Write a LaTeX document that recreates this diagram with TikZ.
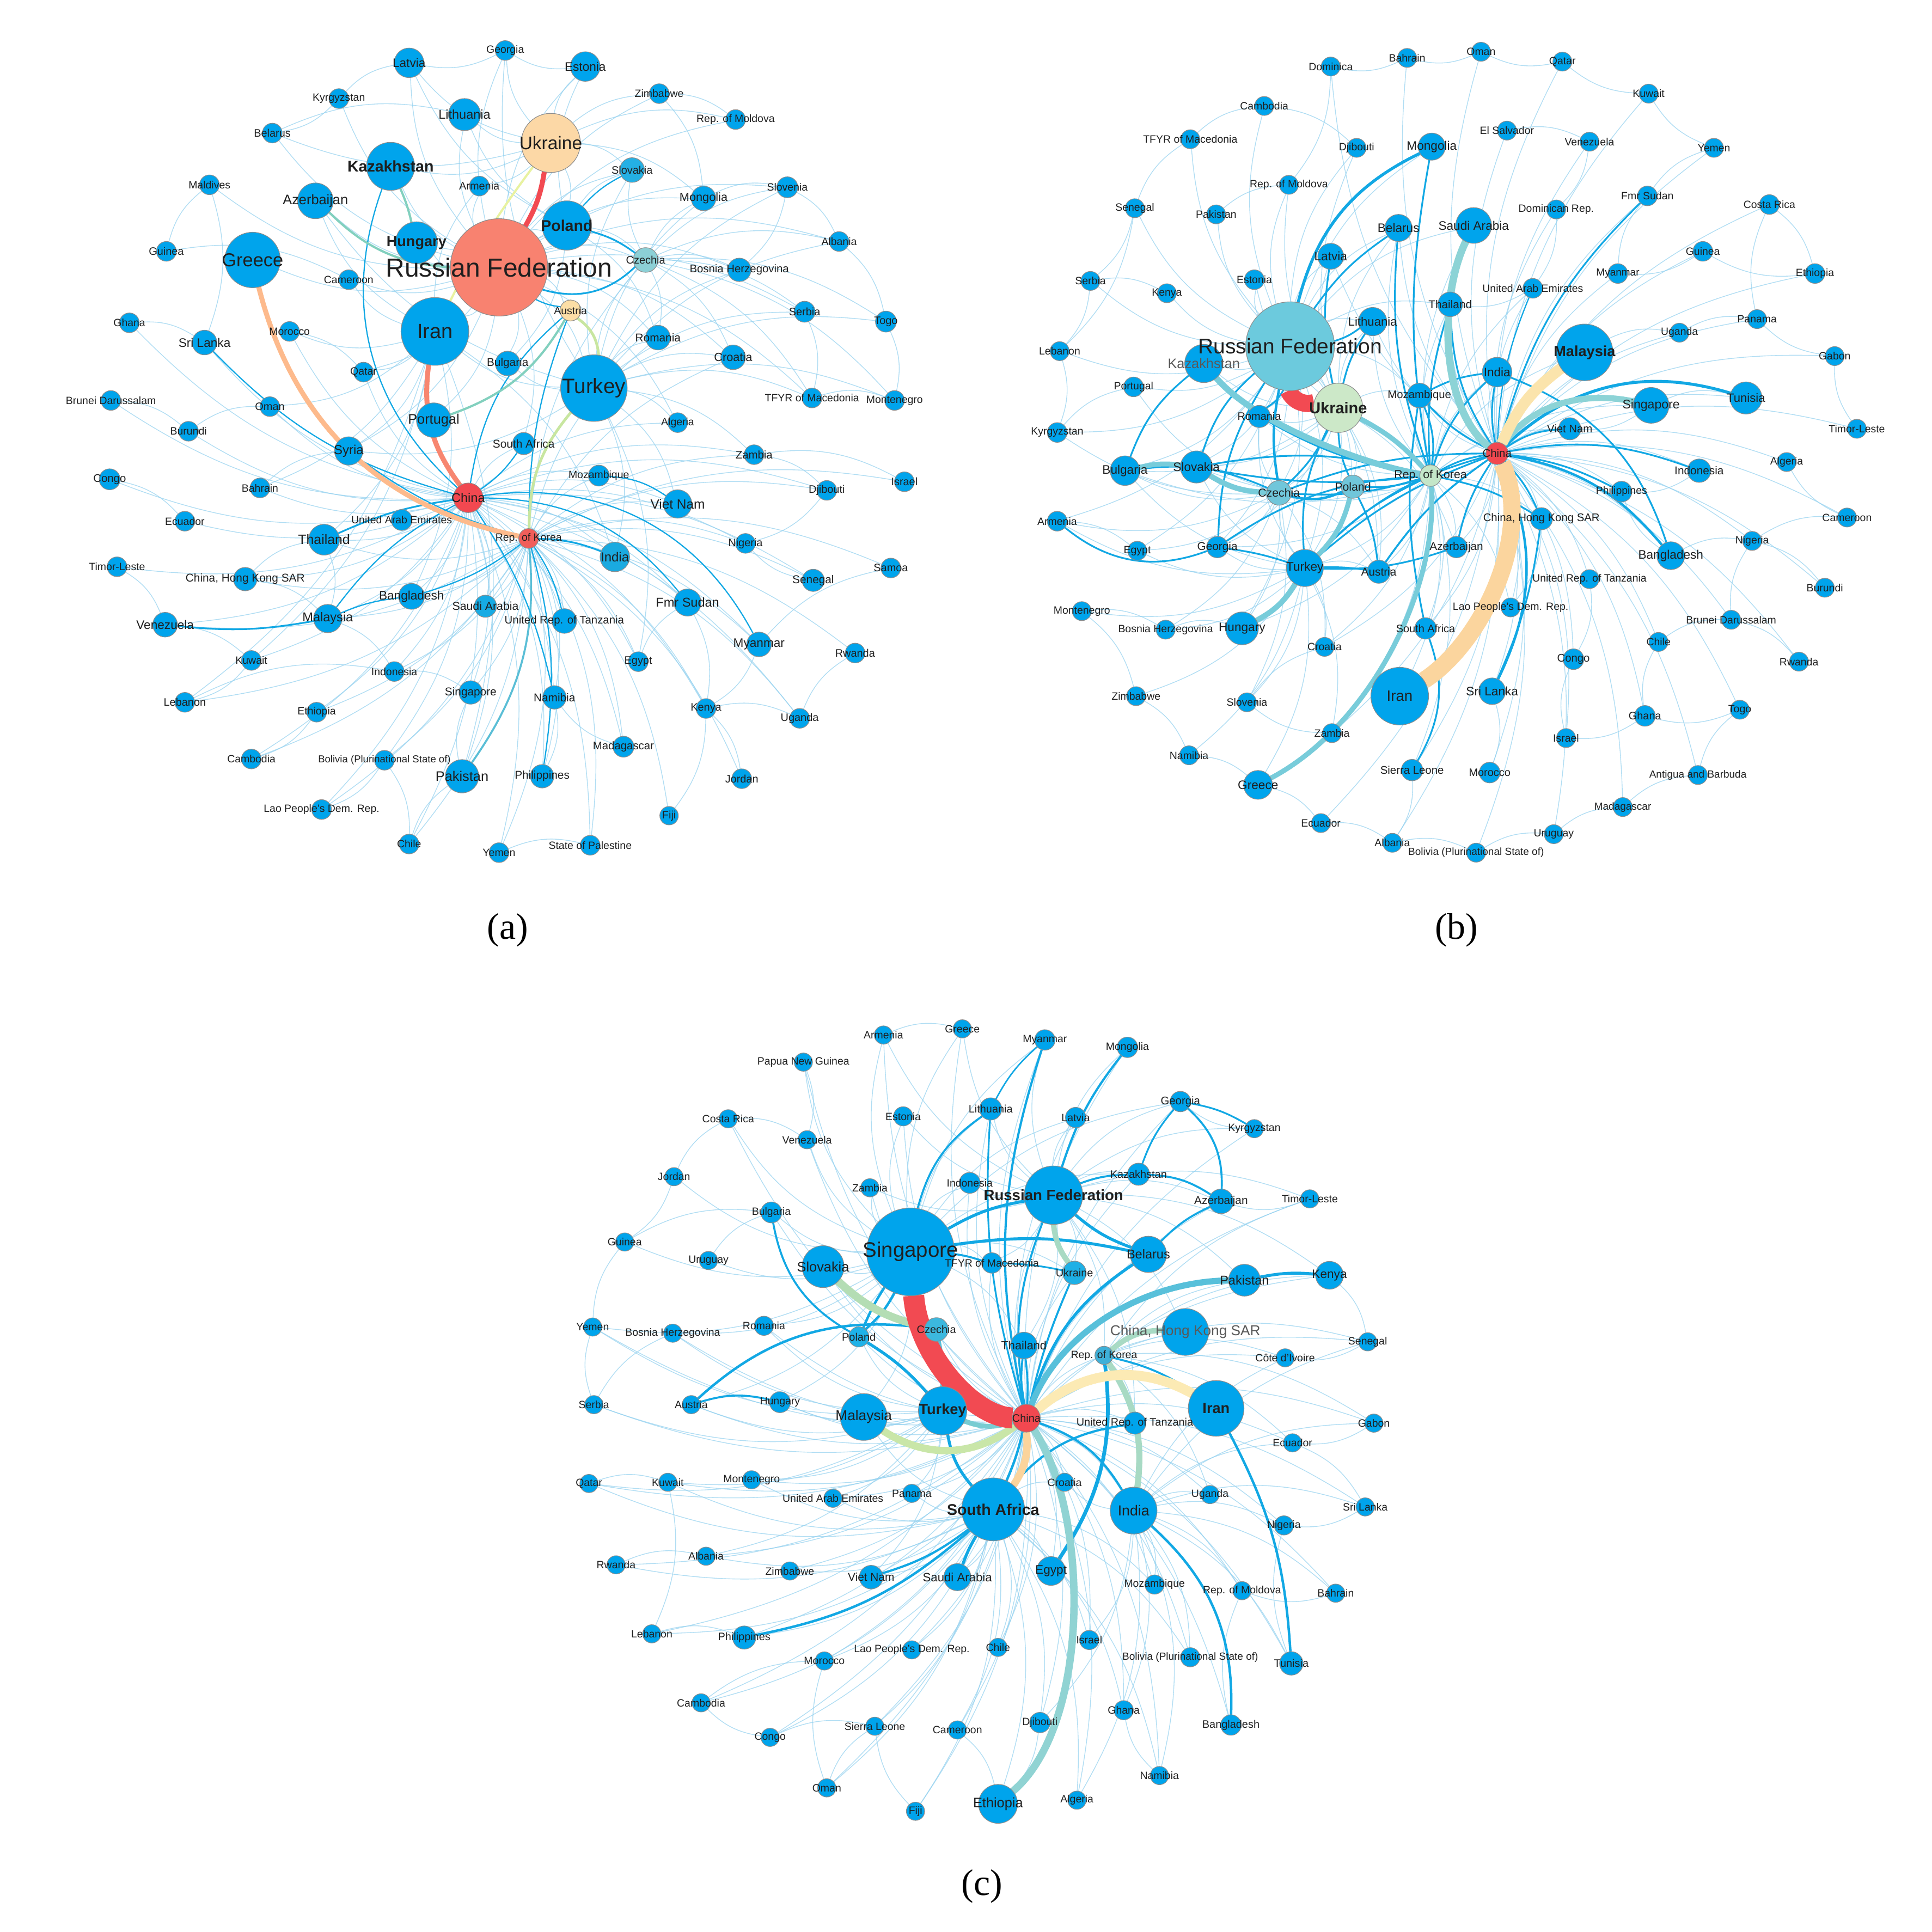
\documentclass[tikz,border=0pt]{standalone}
\usepackage{fontspec}
\setmainfont{Liberation Sans}
\newfontfamily\capfont{Liberation Serif}
\pgfdeclarelayer{bg}\pgfsetlayers{bg,main}
\definecolor{nb}{RGB}{0,164,236}
\definecolor{ruA}{RGB}{248,130,112}
\definecolor{uaA}{RGB}{252,216,166}
\definecolor{cnred}{RGB}{242,72,80}
\definecolor{krA}{RGB}{241,94,90}
\definecolor{czA}{RGB}{140,208,214}
\definecolor{atA}{RGB}{252,222,166}
\definecolor{skA}{RGB}{36,176,228}
\definecolor{inA}{RGB}{26,170,224}
\definecolor{saA}{RGB}{22,171,228}
\definecolor{ruB}{RGB}{108,202,221}
\definecolor{uaB}{RGB}{204,232,200}
\definecolor{krB}{RGB}{196,230,200}
\definecolor{czB}{RGB}{112,198,218}
\definecolor{uaC}{RGB}{30,176,230}
\definecolor{czC}{RGB}{60,184,222}
\definecolor{krC}{RGB}{62,176,216}
\definecolor{plC}{RGB}{30,178,232}
\definecolor{ec}{RGB}{150,210,240}
\definecolor{mb}{RGB}{18,168,228}
\definecolor{redE}{RGB}{242,74,82}
\definecolor{orangeE}{RGB}{253,186,140}
\definecolor{salmonE}{RGB}{247,134,112}
\definecolor{lgE}{RGB}{200,230,160}
\definecolor{ylE}{RGB}{232,242,160}
\definecolor{tealGE}{RGB}{130,208,190}
\definecolor{tealD}{RGB}{90,190,214}
\definecolor{peachE}{RGB}{251,228,172}
\definecolor{orE}{RGB}{251,213,158}
\definecolor{tealB}{RGB}{140,211,214}
\definecolor{tealB2}{RGB}{120,204,218}
\definecolor{tealC}{RGB}{88,192,218}
\definecolor{tealC2}{RGB}{120,204,210}
\definecolor{lgC}{RGB}{180,221,180}
\definecolor{lgC2}{RGB}{201,230,168}
\definecolor{peachC}{RGB}{251,212,156}
\definecolor{ylC}{RGB}{252,234,180}
\definecolor{grC}{RGB}{168,218,196}
\definecolor{tealEt}{RGB}{144,211,211}
\tikzset{
 vtx/.style={circle,inner sep=0pt,outer sep=0pt,draw=black!45,line width=0.25pt,fill=nb},
 lbl/.style={inner sep=0pt,text=black!88},
 fe/.style={draw=ec,line width=0.3pt,opacity=0.75},
 me/.style={draw=mb,line width=0.7pt},
 captxt/.style={font=\capfont\fontsize{15}{15}\selectfont}
}
\newcommand\Vcirc[7][]{\node[vtx,#1,minimum size=#5pt] (#2) at (#3,#4) {};}
\newcommand\Vlab[7][]{\node[lbl,font=\fontsize{#6}{#6}\selectfont] (#2t) at (#3,#4) {#7};}
\newcommand\nodedata{%
% ================= (a) =================
\V{aLV}{332}{51}{12}{5.0}{Latvia}
\V{aGE}{410}{41}{8}{4.3}{Georgia}
\V{aEE}{475}{54}{12}{5.0}{Estonia}
\V{aKG}{275}{80}{8}{4.3}{Kyrgyzstan}
\V{aLT}{377}{93}{13}{5.2}{Lithuania}
\V{aZW}{535}{76}{8}{4.3}{Zimbabwe}
\V{aMD}{597}{97}{8}{4.3}{Rep. of Moldova}
\V{aBY}{221}{108}{8}{4.4}{Belarus}
\V[fill=uaA]{aUA}{447}{116}{24}{7.4}{Ukraine}
\V{aKZ}{317}{135}{19.5}{6.3}{\bfseries Kazakhstan}
\V{aAM}{389}{151}{8}{4.4}{Armenia}
\V{aMV}{170}{150}{8}{4.3}{Maldives}
\V[fill=skA]{aSK}{513}{138}{10}{4.4}{Slovakia}
\V{aSI}{639}{152}{8.5}{4.3}{Slovenia}
\V{aMN}{571}{161}{10}{4.8}{Mongolia}
\V{aAZ}{256}{163}{14.5}{5.6}{Azerbaijan}
\V{aPL}{460}{183}{20}{6.3}{\bfseries Poland}
\V{aAL}{681}{196}{8}{4.3}{Albania}
\V{aGN}{135}{204}{8}{4.4}{Guinea}
\V{aGR}{205}{211}{22.5}{7.6}{Greece}
\V{aHU}{338}{197}{17}{6.0}{\bfseries Hungary}
\V[fill=ruA]{aRU}{405}{217}{39.5}{10.6}{Russian Federation}
\V{aCM}{283}{227}{8}{4.3}{Cameroon}
\V[fill=czA]{aCZ}{524}{211}{10}{4.4}{Czechia}
\V{aBA}{600}{219}{9.5}{4.5}{Bosnia Herzegovina}
\V[fill=atA]{aAT}{463}{252}{8.5}{4.3}{Austria}
\V{aRS}{653}{253}{8.5}{4.4}{Serbia}
\V{aTG}{719}{261}{8.5}{4.4}{Togo}
\V{aGH}{105}{262}{8}{4.3}{Ghana}
\V{aIR}{353}{269}{27.5}{8.4}{Iran}
\V{aMA}{235}{269}{8}{4.3}{Morocco}
\V{aLK}{166}{278}{10}{5.0}{Sri Lanka}
\V{aRO}{534}{274}{10}{4.6}{Romania}
\V{aHR}{595}{290}{10}{4.8}{Croatia}
\V{aBG}{412}{295}{10}{4.6}{Bulgaria}
\V{aQA}{295}{302}{8}{4.3}{Qatar}
\V{aTR}{482}{315}{27}{8.5}{Turkey}
\V{aBN}{90}{325}{8}{4.3}{Brunei Darussalam}
\V{aOM}{219}{330}{8}{4.4}{Oman}
\V{aPT}{352}{341}{14}{5.6}{Portugal}
\V{aMK}{659}{323}{8}{4.3}{TFYR of Macedonia}
\V{aME}{726}{325}{8}{4.3}{Montenegro}
\V{aDZ}{550}{343}{8}{4.3}{Algeria}
\V{aBI}{153}{350}{8}{4.3}{Burundi}
\V{aZA}{425}{360}{9}{4.6}{South Africa}
\V{aSY}{283}{366}{11.5}{5.3}{Syria}
\V{aZM}{612}{369}{8}{4.5}{Zambia}
\V{aCG}{89}{389}{8.5}{4.5}{Congo}
\V{aBH}{211}{396}{8}{4.3}{Bahrain}
\V[fill=cnred]{aCN}{380}{404}{12}{5.2}{China}
\V{aMZ}{486}{386}{8.5}{4.3}{Mozambique}
\V{aIL}{734}{391}{8}{4.4}{Israel}
\V{aDJ}{671}{398}{8}{4.4}{Djibouti}
\V{aVN}{550}{409}{11.5}{5.4}{Viet Nam}
\V{aEC}{150}{423}{8}{4.3}{Ecuador}
\V{aAE}{326}{422}{8.5}{4.3}{United Arab Emirates}
\V{aTH}{263}{438}{12.5}{5.5}{Thailand}
\V{aTL}{95}{460}{8}{4.3}{Timor-Leste}
\V{aHK}{199}{470}{9.5}{4.6}{China, Hong Kong SAR}
\V[fill=krA]{aKR}{429}{437}{8}{4.3}{Rep. of Korea}
\V{aNG}{605}{441}{8}{4.4}{Nigeria}
\V[fill=inA]{aIN}{499}{452}{12}{5.3}{India}
\V{aWS}{723}{461}{8}{4.4}{Samoa}
\V{aSN}{660}{471}{9}{4.6}{Senegal}
\V{aBD}{334}{484}{10.5}{5.0}{Bangladesh}
\V[fill=saA]{aSA}{394}{492}{9}{4.7}{Saudi Arabia}
\V{aMY}{266}{502}{11.5}{5.2}{Malaysia}
\V{aVE}{134}{507}{10}{5.0}{Venezuela}
\V{aSD}{558}{489}{11}{5.2}{Fmr Sudan}
\V{aTZ}{458}{504}{10}{4.5}{United Rep. of Tanzania}
\V{aMM}{616}{523}{10}{5.0}{Myanmar}
\V{aRW}{694}{530}{8}{4.4}{Rwanda}
\V{aEG}{518}{537}{8}{4.4}{Egypt}
\V{aKW}{204}{536}{8}{4.3}{Kuwait}
\V{aID}{320}{545}{8}{4.3}{Indonesia}
\V{aSG}{382}{562}{9.5}{4.6}{Singapore}
\V{aLB}{150}{570}{8}{4.4}{Lebanon}
\V{aET}{257}{578}{8}{4.3}{Ethiopia}
\V{aNA}{450}{566}{9.5}{4.6}{Namibia}
\V{aKE}{573}{575}{8}{4.4}{Kenya}
\V{aUG}{649}{583}{8}{4.4}{Uganda}
\V{aKH}{204}{616}{8}{4.3}{Cambodia}
\V{aBO}{312}{617}{8}{4.1}{Bolivia (Plurinational State of)}
\V{aPK}{375}{630}{13.5}{5.6}{Pakistan}
\V{aMG}{506}{606}{8.5}{4.5}{Madagascar}
\V{aPH}{440}{630}{9.5}{4.6}{Philippines}
\V{aJO}{602}{632}{8}{4.4}{Jordan}
\V{aLA}{261}{657}{8}{4.3}{Lao People's Dem. Rep.}
\V{aFJ}{543}{662}{7.5}{4.4}{Fiji}
\V{aCL}{332}{685}{8}{4.3}{Chile}
\V{aYE}{405}{692}{8}{4.3}{Yemen}
\V{aPS}{479}{686}{8}{4.3}{State of Palestine}
% ================= (b) =================
\V{bDM}{1080}{54}{7.7}{4.3}{Dominica}
\V{bBH}{1142}{47}{7.7}{4.3}{Bahrain}
\V{bOM}{1202}{42}{7.7}{4.3}{Oman}
\V{bQA}{1268}{50}{7.7}{4.3}{Qatar}
\V{bKH}{1026}{86}{7.7}{4.3}{Cambodia}
\V{bKW}{1338}{76}{7.7}{4.3}{Kuwait}
\V{bMK}{966}{113}{7.7}{4.3}{TFYR of Macedonia}
\V{bDJ}{1101}{120}{7.7}{4.3}{Djibouti}
\V{bMN}{1162}{119}{11}{5.0}{Mongolia}
\V{bSV}{1223}{106}{7.7}{4.3}{El Salvador}
\V{bVE}{1290}{115}{7.7}{4.3}{Venezuela}
\V{bYE}{1391}{120}{7.7}{4.3}{Yemen}
\V{bMD}{1046}{150}{7.7}{4.3}{Rep. of Moldova}
\V{bSD}{1337}{159}{8}{4.3}{Fmr Sudan}
\V{bCR}{1436}{166}{8}{4.3}{Costa Rica}
\V{bDO}{1263}{170}{7.7}{4.3}{Dominican Rep.}
\V{bSN}{921}{169}{7.7}{4.3}{Senegal}
\V{bPK}{987}{174}{7.7}{4.3}{Pakistan}
\V{bBY}{1135}{185}{11}{5.0}{Belarus}
\V{bSA}{1196}{183}{14.5}{5.0}{Saudi Arabia}
\V{bGN}{1382}{204}{8}{4.3}{Guinea}
\V{bLV}{1080}{208}{10.5}{5.0}{Latvia}
\V{bMM}{1313}{222}{8}{4.2}{Myanmar}
\V{bET}{1473}{222}{8}{4.3}{Ethiopia}
\V{bRS}{885}{228}{7.7}{4.3}{Serbia}
\V{bEE}{1018}{227}{8}{4.3}{Estonia}
\V{bKE}{947}{238}{7.7}{4.3}{Kenya}
\V{bAE}{1244}{234}{8}{4.3}{United Arab Emirates}
\V{bTH}{1177}{247}{10}{4.6}{Thailand}
\V{bPA}{1426}{259}{7.7}{4.3}{Panama}
\V{bLT}{1114}{261}{11.5}{4.9}{Lithuania}
\V{bUG}{1363}{270}{7.7}{4.3}{Uganda}
\V[fill=ruB]{bRU}{1047}{281}{36}{8.6}{Russian Federation}
\V{bLB}{860}{285}{7.7}{4.3}{Lebanon}
\V{bGA}{1489}{289}{7.7}{4.3}{Gabon}
\V{bKZ}{977}{295}{15.5}{5.6}{\color{black!65}Kazakhstan}
\V{bMY}{1286}{286}{23}{6.0}{\bfseries Malaysia}
\V{bIN}{1215}{302}{12}{5.0}{India}
\V{bPT}{920}{314}{8}{4.3}{Portugal}
\V{bMZ}{1152}{321}{10}{4.5}{Mozambique}
\V{bTN}{1417}{323}{13}{4.9}{Tunisia}
\V{bSG}{1340}{329}{14.5}{5.1}{Singapore}
\V[fill=uaB]{bUA}{1086}{331}{20}{6.4}{\bfseries Ukraine}
\V{bRO}{1022}{338}{9}{4.4}{Romania}
\V{bTL}{1507}{348}{7.7}{4.3}{Timor-Leste}
\V{bVN}{1274}{348}{9}{4.5}{Viet Nam}
\V{bKG}{858}{351}{8}{4.3}{Kyrgyzstan}
\V[fill=cnred]{bCN}{1215}{368}{9}{4.5}{China}
\V{bDZ}{1450}{375}{7.7}{4.3}{Algeria}
\V{bSK}{971}{379}{13}{5.0}{Slovakia}
\V{bBG}{913}{382}{12}{5.0}{Bulgaria}
\V{bID}{1379}{382}{9.5}{4.6}{Indonesia}
\V[fill=krB]{bKR}{1161}{386}{8.7}{4.7}{Rep. of Korea}
\V[fill=czB]{bPL}{1098}{395}{9.4}{4.7}{Poland}
\V{bPH}{1316}{399}{8.4}{4.3}{Philippines}
\V[fill=czB]{bCZ}{1038}{400}{10}{4.7}{Czechia}
\V{bCM}{1499}{420}{7.7}{4.3}{Cameroon}
\V{bHK}{1251}{421}{9}{4.5}{China, Hong Kong SAR}
\V{bAM}{858}{423}{8}{4.3}{Armenia}
\V{bNG}{1422}{439}{7.7}{4.3}{Nigeria}
\V{bEG}{923}{447}{7.7}{4.3}{Egypt}
\V{bGE}{988}{444}{8.7}{4.6}{Georgia}
\V{bAZ}{1182}{444}{8.7}{4.6}{Azerbaijan}
\V{bBD}{1356}{451}{11.3}{5.0}{Bangladesh}
\V{bTR}{1059}{461}{15}{5.0}{Turkey}
\V{bAT}{1119}{464}{9.4}{4.6}{Austria}
\V{bTZ}{1290}{470}{7.7}{4.3}{United Rep. of Tanzania}
\V{bBI}{1481}{477}{7.7}{4.3}{Burundi}
\V{bLA}{1226}{493}{7.7}{4.3}{Lao People's Dem. Rep.}
\V{bME}{878}{496}{7.7}{4.3}{Montenegro}
\V{bBN}{1405}{503}{7.7}{4.3}{Brunei Darussalam}
\V{bBA}{946}{511}{7.7}{4.3}{Bosnia Herzegovina}
\V{bHU}{1008}{510}{13.3}{5.0}{Hungary}
\V{bZA}{1157}{510}{8.7}{4.4}{South Africa}
\V{bCL}{1346}{521}{7.7}{4.3}{Chile}
\V{bHR}{1075}{525}{7.7}{4.3}{Croatia}
\V{bCG}{1277}{535}{8.4}{4.5}{Congo}
\V{bRW}{1460}{537}{7.7}{4.3}{Rwanda}
\V{bSL}{1146}{625}{8.7}{4.5}{Sierra Leone}
\V{bLK}{1211}{561}{10.8}{5.0}{Sri Lanka}
\V{bIR}{1136}{565}{23.4}{6.1}{Iran}
\V{bZW}{922}{565}{7.7}{4.3}{Zimbabwe}
\V{bSI}{1012}{570}{7.7}{4.3}{Slovenia}
\V{bTG}{1412}{576}{7.7}{4.3}{Togo}
\V{bGH}{1335}{581}{8.4}{4.4}{Ghana}
\V{bZM}{1081}{595}{7.7}{4.3}{Zambia}
\V{bIL}{1271}{599}{7.7}{4.3}{Israel}
\V{bNA}{965}{613}{7.7}{4.3}{Namibia}
\V{bMA}{1209}{627}{8.4}{4.4}{Morocco}
\V{bAG}{1378}{629}{7.7}{4.2}{Antigua and Barbuda}
\V{bGR}{1021}{637}{11.7}{5.0}{Greece}
\V{bMG}{1317}{655}{7.7}{4.2}{Madagascar}
\V{bEC}{1072}{668}{7.7}{4.3}{Ecuador}
\V{bUY}{1261}{677}{7.7}{4.3}{Uruguay}
\V{bAL}{1130}{684}{7.7}{4.3}{Albania}
\V{bBO}{1198}{692}{7.7}{4.2}{Bolivia (Plurinational State of)}
% ================= (c) =================
\V{cAM}{717}{840}{7.4}{4.3}{Armenia}
\V{cGR}{781}{835}{7.4}{4.3}{Greece}
\V{cMM}{848}{844}{8.3}{4.3}{Myanmar}
\V{cMN}{915}{850}{8.3}{4.3}{Mongolia}
\V{cPG}{652}{862}{7.4}{4.3}{Papua New Guinea}
\V{cGE}{958}{894}{8.3}{4.5}{Georgia}
\V{cLT}{804}{900}{9}{4.4}{Lithuania}
\V{cEE}{733}{906}{7.8}{4.3}{Estonia}
\V{cLV}{873}{907}{8.3}{4.3}{Latvia}
\V{cCR}{591}{908}{7.4}{4.3}{Costa Rica}
\V{cKG}{1018}{916}{7.4}{4.3}{Kyrgyzstan}
\V{cVE}{655}{925}{7.4}{4.3}{Venezuela}
\V{cJO}{547}{955}{7.4}{4.3}{Jordan}
\V{cKZ}{924}{953}{9}{4.4}{Kazakhstan}
\V{cID}{787}{960}{8.5}{4.3}{Indonesia}
\V{cZM}{706}{964}{7.4}{4.3}{Zambia}
\V{cRU}{855}{970}{23.7}{6.1}{\bfseries Russian Federation}
\V{cTL}{1063}{973}{7.4}{4.3}{Timor-Leste}
\V{cAZ}{991}{975}{10}{4.6}{Azerbaijan}
\V{cBG}{626}{984}{8.5}{4.3}{Bulgaria}
\V{cGN}{507}{1008}{7.4}{4.3}{Guinea}
\V{cSG}{739}{1016}{35.6}{8.5}{Singapore}
\V{cBY}{932}{1018}{14.7}{5.2}{Belarus}
\V{cUY}{575}{1023}{7.4}{4.3}{Uruguay}
\V{cMK}{805}{1025}{8.3}{4.3}{TFYR of Macedonia}
\V{cSK}{668}{1028}{17}{5.6}{Slovakia}
\V[fill=uaC]{cUA}{872}{1033}{9.5}{4.4}{Ukraine}
\V{cKE}{1079}{1035}{11.3}{5.0}{Kenya}
\V{cPK}{1010}{1039}{12.9}{5.2}{Pakistan}
\V{cRO}{620}{1076}{7.8}{4.3}{Romania}
\V{cYE}{481}{1077}{7.4}{4.3}{Yemen}
\V[fill=czC]{cCZ}{760}{1079}{9.6}{4.4}{Czechia}
\V{cHK}{962}{1081}{19}{5.8}{\color{black!65}China, Hong Kong SAR}
\V{cBA}{546}{1082}{7.4}{4.3}{Bosnia Herzegovina}
\V[fill=plC]{cPL}{697}{1085}{8.2}{4.4}{Poland}
\V{cSN}{1110}{1089}{7.4}{4.3}{Senegal}
\V{cTH}{831}{1092}{10.8}{4.8}{Thailand}
\V[fill=krC]{cKR}{896}{1100}{7.4}{4.3}{Rep. of Korea}
\V{cCI}{1043}{1102}{7.4}{4.3}{Côte d'Ivoire}
\V{cRS}{482}{1140}{7.4}{4.3}{Serbia}
\V{cAT}{561}{1140}{7.4}{4.3}{Austria}
\V{cHU}{633}{1138}{8.5}{4.3}{Hungary}
\V{cIR}{987}{1143}{22.6}{6.0}{\bfseries Iran}
\V{cTR}{765}{1145}{19.6}{6.0}{\bfseries Turkey}
\V{cMY}{701}{1150}{19}{5.8}{Malaysia}
\V[fill=cnred]{cCN}{833}{1151}{11.3}{4.4}{China}
\V{cTZ}{921}{1155}{9}{4.4}{United Rep. of Tanzania}
\V{cGA}{1115}{1155}{7.4}{4.3}{Gabon}
\V{cEC}{1049}{1171}{7.4}{4.3}{Ecuador}
\V{cQA}{478}{1204}{7.4}{4.3}{Qatar}
\V{cKW}{542}{1203}{7.4}{4.3}{Kuwait}
\V{cME}{610}{1201}{7.4}{4.3}{Montenegro}
\V{cAE}{676}{1216}{7.4}{4.3}{United Arab Emirates}
\V{cPA}{740}{1212}{7.4}{4.3}{Panama}
\V{cHR}{864}{1203}{7.4}{4.3}{Croatia}
\V{cUG}{982}{1213}{7.4}{4.3}{Uganda}
\V{cZA}{806}{1225}{25.5}{6.3}{\bfseries South Africa}
\V{cIN}{920}{1226}{19}{5.9}{India}
\V{cLK}{1108}{1223}{7.4}{4.3}{Sri Lanka}
\V{cNG}{1042}{1238}{7.8}{4.3}{Nigeria}
\V{cRW}{500}{1270}{7.4}{4.3}{Rwanda}
\V{cAL}{573}{1263}{7.4}{4.3}{Albania}
\V{cZW}{641}{1275}{7.4}{4.3}{Zimbabwe}
\V{cVN}{707}{1280}{9.6}{4.6}{Viet Nam}
\V{cSA}{777}{1280}{11}{4.9}{Saudi Arabia}
\V{cEG}{853}{1275}{11.7}{5.0}{Egypt}
\V{cMZ}{937}{1286}{7.8}{4.3}{Mozambique}
\V{cMD}{1008}{1291}{7.4}{4.3}{Rep. of Moldova}
\V{cBH}{1084}{1293}{7.4}{4.3}{Bahrain}
\V{cLB}{529}{1326}{7.4}{4.3}{Lebanon}
\V{cPH}{604}{1329}{9.4}{4.4}{Philippines}
\V{cIL}{884}{1331}{7.8}{4.3}{Israel}
\V{cCL}{810}{1337}{7.4}{4.3}{Chile}
\V{cLA}{740}{1339}{7.4}{4.3}{Lao People's Dem. Rep.}
\V{cMA}{669}{1348}{7.4}{4.3}{Morocco}
\V{cBO}{966}{1345}{7.8}{4.2}{Bolivia (Plurinational State of)}
\V{cTN}{1048}{1350}{9.5}{4.4}{Tunisia}
\V{cKH}{569}{1382}{7.4}{4.3}{Cambodia}
\V{cGH}{912}{1388}{7.8}{4.3}{Ghana}
\V{cDJ}{844}{1398}{8.3}{4.3}{Djibouti}
\V{cBD}{999}{1400}{8.3}{4.4}{Bangladesh}
\V{cSL}{710}{1401}{7.4}{4.3}{Sierra Leone}
\V{cCM}{777}{1404}{7.4}{4.3}{Cameroon}
\V{cCG}{625}{1410}{7.4}{4.3}{Congo}
\V{cNA}{941}{1441}{7.4}{4.3}{Namibia}
\V{cOM}{671}{1451}{7.4}{4.3}{Oman}
\V{cDZ}{874}{1461}{7.4}{4.3}{Algeria}
\V{cET}{810}{1464}{15.8}{5.6}{Ethiopia}
\V{cFJ}{743}{1470}{7.4}{4.3}{Fiji}
}
\begin{document}
\begin{tikzpicture}[x=0.5pt,y=-0.5pt]
\useasboundingbox (0,0) rectangle (1568,1568);
\let\V\Vcirc
\nodedata
\begin{pgfonlayer}{bg}
\fill[white] (0,0) rectangle (1568,1568);
% ---- (a) faint
\foreach \h/\L in {
 aRU/{aLV,aGE,aEE,aKG,aLT,aBY,aKZ,aAM,aAZ,aSK,aMN,aSI,aPL,aCZ,aBA,aHU,aBG,aRO,aHR,aRS,aTR,aIR,aPT,aMD,aZW,aAL,aGR,aCM,aMV,aQA,aMK,aSY,aDZ,aAT,aZA},
 aCN/{aTH,aAE,aMY,aBD,aSA,aID,aSG,aVN,aMM,aIN,aSD,aTZ,aPK,aHK,aLK,aSY,aBO,aPH,aNA,aET,aKW,aVE,aKH,aLA,aCL,aYE,aEG,aMZ,aZA,aDZ,aZM,aNG,aDJ,aBH,aOM,aMA,aBN,aBI,aCG,aEC,aTL,aGH,aSN,aKE,aUG,aQA,aMG,aPS},
 aKR/{aTH,aMY,aBD,aSA,aID,aSG,aVN,aMM,aSD,aTZ,aPH,aNA,aEG,aMZ,aKE,aUG,aRW,aWS,aSN,aNG,aIL,aDJ,aFJ,aJO,aMG,aPS,aYE,aCL,aBO,aLA,aET,aKH,aHK,aVE,aLB,aZM,aRO,aHR,aCZ},
 aTR/{aBG,aRO,aHR,aBA,aRS,aSI,aMK,aME,aAL,aDZ,aZM,aTG,aCZ,aSK,aMN,aGE,aAZ,aIR,aSY,aIN,aVN,aEG},
 aIR/{aSY,aQA,aOM,aMA,aCM,aAZ,aAM,aTH,aBH,aKW,aLB,aPK,aIN,aBD},
 aUA/{aGE,aEE,aLT,aLV,aMD,aZW,aSK,aPL,aBY,aKZ,aAM,aMN},
 aPL/{aLT,aEE,aLV,aCZ,aSK,aHU,aRO,aBG},
 aCZ/{aSK,aBA,aSI,aAL,aRO,aHR,aMN,aRS,aMK,aME,aTG}}
 {\foreach \n in \L {\draw[fe] (\h) to[bend left=18] (\n);}}
\foreach \p/\q in {aCG/aEC,aTL/aVE,aVE/aKW,aKW/aLB,aLB/aID,aKE/aUG,aUG/aRW,aMM/aWS,aSN/aNG,aSD/aKE,aKE/aFJ,aKE/aJO,aMM/aKE,aZM/aDJ,aZM/aIL,aDJ/aNG,aSI/aAL,aSI/aBA,aTG/aME,aRS/aMK,aMK/aME,aAL/aTG,aMN/aSI,aZW/aMD,aGN/aMV,aMV/aLK,aGN/aCM,aGH/aLK,aBN/aBI,aBI/aOM,aBH/aSY,aMA/aQA,aKG/aBY,aKG/aLV,aBY/aLT,aHK/aMY,aHK/aTH,aTH/aMY,aMY/aID,aID/aSG,aET/aKH,aBO/aLA,aBO/aCL,aCL/aPK,aPK/aSG,aYE/aPS,aMG/aNA,aNA/aPH,aEG/aSD,aGE/aLV,aEE/aGE,aZW/aMN}
 {\draw[fe] (\p) to[bend left=18] (\q);}
% ---- (b) faint
\foreach \h/\L in {
 bRU/{bLV,bEE,bLT,bBY,bMD,bPK,bKE,bSN,bRS,bMK,bKH,bDJ,bLB,bPT,bKG,bKZ,bRO,bBG,bSK,bCZ,bPL,bTR,bGE,bAM,bEG,bHU,bAT,bMZ,bTH,bSA,bMN},
 bCN/{bIN,bVN,bTN,bID,bPH,bHK,bBD,bTZ,bLA,bLK,bCG,bIL,bGH,bMA,bSL,bZA,bCL,bBN,bNG,bDZ,bCM,bBI,bRW,bTG,bAG,bMG,bUY,bBO,bAL,bEC,bZM,bHR,bAZ,bAE,bMM,bUG,bPA,bGA,bET,bGN,bCR,bSD,bYE,bKW,bVE,bDO,bSV,bOM,bQA,bBH,bTL,bDM,bKR,bTH,bMZ,bLT,bBY,bLV},
 bKR/{bPL,bCZ,bTR,bAT,bZA,bAZ,bHU,bSK,bBG,bRO,bIN,bMZ,bHK,bLA,bHR,bGE,bTH,bAE,bSA,bVN,bSG,bSL,bIR,bZM,bMY,bLT,bBY},
 bUA/{bLT,bBY,bLV,bEE,bMD,bRO,bCZ,bPL,bTR,bMZ,bSK,bBG,bKZ,bGE,bDJ,bAZ,bAT},
 bTR/{bGE,bEG,bAM,bBA,bHR,bSI,bZW,bNA,bZM,bGR,bME,bAT,bCZ,bSK,bBG,bRO},
 bCZ/{bBG,bHU,bBA,bSI,bHR,bAT,bGE,bRO,bAM,bEG,bPT,bKG}}
 {\foreach \n in \L {\draw[fe] (\h) to[bend left=18] (\n);}}
\foreach \p/\q in {bSN/bRS,bSN/bMK,bMK/bKH,bKH/bDJ,bRS/bLB,bRS/bKE,bKG/bPT,bAM/bEG,bME/bZW,bZW/bNA,bNA/bGR,bGR/bEC,bEC/bAL,bAL/bBO,bBO/bUY,bUY/bMG,bMG/bAG,bAG/bTG,bTG/bGH,bGH/bIL,bIL/bCG,bGH/bCL,bCL/bBN,bBN/bRW,bBN/bNG,bNG/bCM,bNG/bBI,bCM/bDZ,bTL/bGA,bGA/bPA,bPA/bCR,bCR/bET,bET/bGN,bGN/bMM,bMM/bSD,bSD/bYE,bYE/bKW,bKW/bQA,bQA/bOM,bOM/bBH,bBH/bDM,bSV/bVE,bVE/bDO,bDO/bAE,bAE/bTH,bUG/bPA,bMY/bUG,bSG/bTN,bSG/bVN,bID/bPH,bBD/bPH,bBD/bNG,bHK/bLA,bTZ/bCG,bLK/bMA,bSL/bAL,bZM/bSI,bBA/bHU,bME/bBA,bSI/bHR,bDM/bMD,bPK/bMD,bLB/bKG,bSN/bLB}
 {\draw[fe] (\p) to[bend left=18] (\q);}
% ---- (c) faint
\foreach \h/\L in {
 cCN/{cAM,cGR,cMM,cMN,cPG,cGE,cLT,cEE,cLV,cKG,cKZ,cID,cZM,cRU,cTL,cAZ,cBG,cBY,cMK,cSK,cUA,cKE,cRO,cCZ,cHK,cPL,cSN,cTH,cKR,cCI,cHU,cAT,cTZ,cGA,cEC,cME,cAE,cPA,cHR,cUG,cIN,cLK,cNG,cAL,cZW,cVN,cSA,cEG,cMZ,cMD,cBH,cPH,cIL,cCL,cLA,cMA,cBO,cTN,cGH,cDJ,cBD,cSL,cCM,cNA,cDZ,cFJ,cKW,cQA,cRW,cLB,cKH,cCG,cOM,cVE,cCR,cYE,cRS,cBA},
 cSG/{cBG,cSK,cZM,cID,cEE,cLT,cVE,cPG,cAM,cGR,cMM,cLV,cRO,cHU,cAT,cMY,cUA,cTH,cMK,cBA,cUY,cGN,cJO,cCR,cYE,cKZ,cGE},
 cRU/{cMM,cMN,cLT,cLV,cGE,cKG,cKZ,cAZ,cMK,cUA,cTH,cKR,cID,cZM,cEE,cGR,cAM,cTL,cHK,cPK,cKE,cTZ},
 cZA/{cMY,cSA,cVN,cPH,cZW,cAL,cAE,cPA,cMA,cLA,cSL,cCM,cOM,cFJ,cET,cDJ,cCL,cEG,cIL,cGH,cNA,cMZ,cBO,cRW,cQA,cKW,cME,cLB,cKH,cCG,cHR,cDZ},
 cIN/{cUG,cNG,cLK,cEC,cMD,cMZ,cBO,cGH,cIL,cBH,cTN,cNA,cGA,cSN,cCI,cHR,cDJ,cDZ},
 cTR/{cPL,cMY,cHU,cAT,cRO,cBA,cYE,cRS,cQA,cKW,cME,cAL,cAE,cVN,cPA},
 cKR/{cUG,cPK,cCI,cSN,cGA,cEC,cTZ,cKE,cTL}}
 {\foreach \n in \L {\draw[fe] (\h) to[bend left=18] (\n);}}
\foreach \p/\q in {cRS/cBA,cRS/cYE,cQA/cKW,cKW/cLB,cRW/cAL,cLB/cPH,cKH/cMA,cCG/cSL,cOM/cSL,cFJ/cSL,cCM/cET,cDJ/cET,cNA/cGH,cBD/cMD,cBH/cMD,cTN/cNG,cLK/cNG,cEC/cLK,cGA/cEC,cSN/cCI,cTL/cAZ,cKG/cGE,cKE/cSN,cCR/cVE,cPG/cVE,cAM/cGR,cJO/cGN,cUY/cBG,cGN/cBG,cYE/cGN,cJO/cCR,cOM/cMA,cCG/cKH}
 {\draw[fe] (\p) to[bend left=18] (\q);}
% ---- (a) medium
\draw[me] (aRU) to[bend right=30] (aCZ);
\draw[me] (aPL) to[bend left=10] (aCZ);
\draw[me,line width=0.5pt] (aSK) to[bend right=10] (aPL);
\draw[me,line width=0.5pt] (aKZ) to[bend right=34] (aCN);
\draw[me,line width=0.5pt] (aLK) to[bend right=15] (aCN);
\draw[me] (aTH) to[bend left=8] (aCN);
\draw[me,line width=0.5pt] (aSY) to[bend right=10] (aKR);
\draw[me] (aVE) to[bend right=8] (aMY);
\draw[me,line width=0.5pt] (aMY) to[bend left=8] (aBD);
\draw[me,line width=0.5pt] (aBD) to[bend right=10] (aKR);
\draw[me,line width=0.5pt] (aMY) to[bend left=12] (aCN);
\draw[me,draw=tealD,line width=0.8pt] (aPK) to[bend right=20] (aKR);
\draw[me] (aKR) to[bend left=10] (aIN);
\draw[me,line width=0.5pt] (aCN) to[bend left=35] (aMM);
\draw[me,line width=0.5pt] (aMZ) to[bend left=15] (aVN);
\draw[me,line width=0.5pt] (aKR) to[bend left=12] (aPH);
\draw[me,line width=0.5pt] (aCN) to[bend left=10] (aNA);
\draw[me,line width=0.5pt] (aCN) to[bend left=25] (aSD);
\draw[me,line width=0.5pt] (aAT) to[bend right=10] (aKR);
\draw[me,line width=0.5pt] (aAT) to[bend right=20] (aCN);
\draw[me,line width=0.5pt] (aAT) to[bend left=10] (aRU);
\draw[me,line width=0.5pt] (aZA) to[bend left=10] (aCN);
\draw[me,line width=0.5pt] (aTZ) to[bend right=10] (aKR);
% ---- (a) strong
\draw[line width=0.9pt,draw=tealGE] (aKZ) to[bend left=5] (aHU);
\draw[line width=0.9pt,draw=tealGE] (aAZ) to[bend right=20] (aRU);
\draw[line width=0.9pt,draw=tealGE] (aPT) to[bend right=20] (aAT);
\draw[line width=0.9pt,draw=ylE] (aUA) to[bend right=5] (aIR);
\draw[line width=1.1pt,draw=lgE] (aAT) to[bend left=25] (aTR);
\draw[line width=1.1pt,draw=lgE] (aTR) to[bend right=20] (aKR);
\draw[line width=2pt,draw=orangeE] (aGR) to[bend right=32] (aKR);
\draw[line width=2pt,draw=salmonE] (aIR) to[bend right=22] (aCN);
\draw[line width=2pt,draw=redE] (aUA) to[bend left=10] (aRU);
% ---- (b) medium
\draw[me,line width=1.2pt] (bMN) to[bend right=25] (bRU);
\draw[me] (bMN) to[bend right=10] (bKR);
\draw[me] (bBY) to[bend right=12] (bKR);
\draw[me] (bBY) to[bend right=10] (bRU);
\draw[me] (bLV) to[bend right=10] (bUA);
\draw[me] (bLT) to[bend left=10] (bRU);
\draw[me,line width=1.2pt] (bCN) to[bend left=30] (bTN);
\draw[me,line width=1pt] (bCN) to[bend left=20] (bBD);
\draw[me] (bIN) to[bend left=25] (bBD);
\draw[me] (bCN) to[bend left=15] (bID);
\draw[me] (bCN) to[bend left=10] (bPH);
\draw[me] (bCN) to[bend left=10] (bHK);
\draw[me,line width=1pt] (bCN) to[bend left=25] (bLK);
\draw[me] (bHK) to[bend left=8] (bLK);
\draw[me] (bCN) to[bend right=15] (bTR);
\draw[me] (bKR) to[bend right=10] (bTR);
\draw[me] (bCN) to[bend right=10] (bCZ);
\draw[me] (bKR) to[bend left=10] (bPL);
\draw[me,line width=1pt] (bCZ) to[bend right=20] (bPL);
\draw[me] (bPL) to[bend left=10] (bAT);
\draw[me] (bTR) to[bend right=10] (bAZ);
\draw[me] (bTR) to[bend left=5] (bAT);
\draw[me] (bGE) to[bend left=5] (bTR);
\draw[me] (bAM) to[bend right=30] (bGE);
\draw[me] (bGE) to[bend left=15] (bRU);
\draw[me] (bKZ) to[bend right=15] (bBG);
\draw[me,line width=1pt] (bRU) to[bend right=10] (bCZ);
\draw[me] (bUA) to[bend left=10] (bCZ);
\draw[me] (bUA) to[bend right=15] (bTR);
\draw[me] (bSL) to[bend right=25] (bZA);
\draw[me] (bMZ) to[bend right=10] (bZA);
\draw[me] (bSD) to[bend right=15] (bCN);
\draw[me,line width=0.5pt] (bAE) to[bend right=10] (bCN);
\draw[me] (bTH) to[bend right=15] (bCN);
\draw[me] (bIN) to[bend right=10] (bCN);
\draw[me] (bCN) to[bend right=10] (bAT);
\draw[me] (bKR) to[bend left=8] (bSK);
\draw[me] (bKR) to[bend left=10] (bCN);
\draw[me] (bKR) to[bend right=15] (bMZ);
\draw[me] (bKR) to[bend left=15] (bIN);
\draw[me] (bRO) to[bend right=10] (bKR);
\draw[me] (bCZ) to[bend right=10] (bKR);
\draw[me] (bTR) to[bend left=10] (bCN);
\draw[me] (bSK) to[bend left=12] (bKR);
\draw[me] (bBG) to[bend left=15] (bCZ);
\draw[me] (bRU) to[bend left=15] (bRO);
\draw[me] (bRU) to[bend right=15] (bSK);
\draw[me] (bUA) to[bend right=10] (bPL);
\draw[me] (bMZ) to[bend left=10] (bIN);
\draw[me] (bTH) to[bend right=10] (bKR);
\draw[me] (bLT) to[bend right=10] (bUA);
\draw[me] (bAZ) to[bend left=10] (bCN);
\draw[me] (bHK) to[bend right=10] (bKR);
\draw[me] (bCN) to[bend left=10] (bMZ);
\draw[me] (bCN) to[bend left=15] (bVN);
\draw[me] (bGE) to[bend left=15] (bKR);
\draw[me] (bAT) to[bend left=10] (bCN);
% ---- (b) strong
\draw[line width=2pt,draw=tealB2] (bBG) to[bend left=10] (bSK);
\draw[line width=2.2pt,draw=tealB2] (bSK) to[bend right=15] (bCZ);
\draw[line width=2pt,draw=tealB2] (bPL) to[bend left=15] (bTR);
\draw[line width=2.2pt,draw=tealB2] (bTR) to[bend left=15] (bHU);
\draw[line width=2pt,draw=tealB2] (bKR) .. controls (1168,480) and (1110,590) .. (bGR);
\draw[line width=2pt,draw=tealB2] (bUA) to[bend left=10] (bKR);
\draw[line width=2.5pt,draw=tealB2] (bKZ) .. controls (1020,345) and (1110,378) .. (bKR);
\draw[line width=3pt,draw=tealB] (bSA) .. controls (1168,240) and (1168,330) .. (bCN);
\draw[line width=2.5pt,draw=tealB] (bSG) .. controls (1290,318) and (1245,325) .. (bCN);
\draw[line width=4.5pt,draw=peachE] (bMY) to[bend right=15] (bCN);
\draw[line width=7pt,draw=orE] (bIR) .. controls (1205,520) and (1245,430) .. (bCN);
\draw[line width=7pt,draw=redE] (bRU) to[bend right=40] (bUA);
% ---- (c) medium
\draw[me,line width=1.2pt] (cPK) to[bend left=8] (cKE);
\draw[me,line width=1.2pt] (cRU) to[bend right=10] (cBY);
\draw[me,line width=1.2pt] (cSG) to[bend left=10] (cBY);
\draw[me,line width=1.2pt] (cCN) to[bend left=20] (cBY);
\draw[me,line width=1.2pt] (cSG) to[bend left=10] (cRU);
\draw[me,line width=0.9pt] (cCN) to[bend left=15] (cMM);
\draw[me,line width=0.9pt] (cMN) to[bend right=10] (cRU);
\draw[me,line width=0.6pt] (cMM) to[bend right=10] (cLT);
\draw[me,line width=0.8pt] (cLT) to[bend right=20] (cSG);
\draw[me,line width=0.7pt] (cCN) to[bend left=10] (cLT);
\draw[me,line width=1pt] (cAT) to[bend left=25] (cCZ);
\draw[me,line width=0.8pt] (cAT) to[bend left=15] (cHU);
\draw[me,line width=1pt] (cPL) to[bend left=5] (cSG);
\draw[me,line width=1pt] (cPL) to[bend right=10] (cSG);
\draw[me,line width=1.2pt] (cPL) to[bend left=8] (cTR);
\draw[me,line width=0.8pt] (cBG) to[bend right=25] (cPL);
\draw[me,line width=1.2pt] (cTR) to[bend right=15] (cZA);
\draw[me,line width=1.2pt] (cZA) to[bend right=5] (cSA);
\draw[me,line width=0.9pt] (cZA) to[bend left=10] (cVN);
\draw[me,line width=1pt] (cZA) to[bend left=15] (cPH);
\draw[me,line width=0.9pt] (cZA) to[bend left=20] (cTZ);
\draw[me,line width=1.5pt] (cEG) to[bend right=20] (cKR);
\draw[me,line width=1pt] (cIN) to[bend left=25] (cBD);
\draw[me,line width=1pt] (cIR) to[bend left=12] (cTN);
\draw[me,line width=0.9pt] (cCN) to[bend left=20] (cIN);
\draw[me,line width=0.8pt] (cTH) to[bend left=5] (cCN);
\draw[me,line width=0.8pt] (cTH) to[bend right=8] (cCN);
\draw[me,line width=0.8pt] (cGE) to[bend left=25] (cAZ);
\draw[me,line width=0.7pt] (cGE) to[bend left=10] (cKG);
\draw[me,line width=0.8pt] (cKZ) to[bend left=15] (cAZ);
\draw[me,line width=0.8pt] (cAZ) to[bend right=10] (cBY);
\draw[me,line width=0.7pt] (cGE) to[bend right=10] (cKZ);
\draw[me,line width=0.8pt] (cRU) to[bend left=10] (cKZ);
\draw[me,line width=0.7pt] (cMK) to[bend left=5] (cUA);
\draw[me,line width=0.8pt] (cCN) to[bend left=5] (cUA);
\draw[me,line width=0.8pt] (cKR) to[bend left=10] (cIR);
\draw[me,line width=1pt] (cZA) to[bend right=5] (cCN);
\draw[me,line width=0.8pt] (cSG) to[bend left=5] (cMK);
\draw[me,line width=0.8pt] (cCN) to[bend left=15] (cRU);
% ---- (c) strong
\draw[line width=2.2pt,draw=grC] (cRU) to[bend right=15] (cUA);
\draw[line width=3.2pt,draw=lgC] (cSK) to[bend right=15] (cCZ);
\draw[line width=2pt,draw=tealC] (cCZ) to[bend left=5] (cTR);
\draw[line width=3pt,draw=lgC2] (cMY) to[bend right=35] (cCN);
\draw[line width=2pt,draw=tealC2] (cTR) to[bend right=20] (cCN);
\draw[line width=3pt,draw=peachC] (cZA) to[bend right=20] (cCN);
\draw[line width=2.2pt,draw=grC] (cHK) to[bend right=20] (cKR);
\draw[line width=2.5pt,draw=grC] (cKR) to[bend left=20] (cIN);
\draw[line width=4pt,draw=ylC] (cCN) to[bend left=35] (cIR);
\draw[line width=2.5pt,draw=tealC] (cCN) .. controls (860,1080) and (930,1040) .. (cPK);
\draw[line width=3pt,draw=tealEt] (cCN) .. controls (885,1230) and (885,1400) .. (cET);
\draw[line width=8.5pt,draw=redE] (cSG) .. controls (745,1100) and (790,1150) .. (cCN);
\end{pgfonlayer}
\let\V\Vlab
\nodedata
% ================= captions =================
\node[captxt] (capa) at (412,755) {(a)};
\node[captxt] (capb) at (1182,755) {(b)};
\node[captxt] (capc) at (797,1531) {(c)};
\end{tikzpicture}
\end{document}
